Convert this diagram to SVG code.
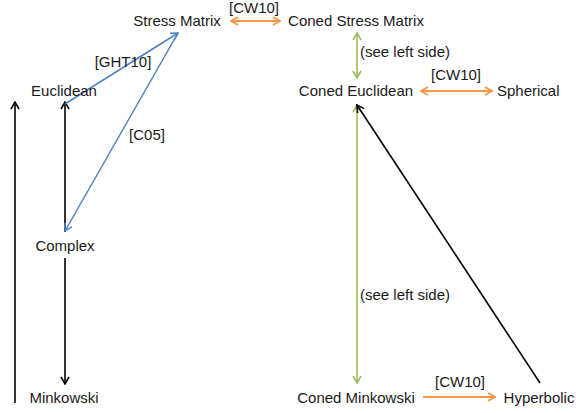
<svg xmlns="http://www.w3.org/2000/svg" width="576" height="413" viewBox="0 0 576 413">
<style>
text{font-family:"Liberation Sans",Arial,sans-serif;font-size:15px;fill:#1a1a1a}
.m{text-anchor:middle}
.k{stroke:#000;stroke-width:1.6;fill:none}
.o{stroke:#F79646;stroke-width:1.8;fill:none}
.g{stroke:#9BBB59;stroke-width:1.6;fill:none}
.b{stroke:#4F81BD;stroke-width:1.5;fill:none}
</style>
<defs>
<marker id="ak" viewBox="0 0 10 10" refX="9" refY="5" markerWidth="10" markerHeight="10" markerUnits="userSpaceOnUse" orient="auto-start-reverse"><path d="M2,1 L9,5 L2,9" fill="none" stroke="#000" stroke-width="1.6"/></marker>
<marker id="ao" viewBox="0 0 10 10" refX="9" refY="5" markerWidth="10" markerHeight="10" markerUnits="userSpaceOnUse" orient="auto-start-reverse"><path d="M2,1 L9,5 L2,9" fill="none" stroke="#F79646" stroke-width="1.8"/></marker>
<marker id="ag" viewBox="0 0 10 10" refX="9" refY="5" markerWidth="10" markerHeight="10" markerUnits="userSpaceOnUse" orient="auto-start-reverse"><path d="M2,1 L9,5 L2,9" fill="none" stroke="#9BBB59" stroke-width="1.6"/></marker>
<marker id="ab" viewBox="0 0 10 10" refX="9" refY="5" markerWidth="10" markerHeight="10" markerUnits="userSpaceOnUse" orient="auto-start-reverse"><path d="M2,1 L9,5 L2,9" fill="none" stroke="#4F81BD" stroke-width="1.5"/></marker>
</defs>
<g id="connectors">
<line class="k" x1="15" y1="403" x2="15" y2="102" marker-end="url(#ak)"/>
<line class="k" x1="65" y1="232" x2="65" y2="102" marker-end="url(#ak)"/>
<line class="k" x1="65" y1="258" x2="65" y2="384" marker-end="url(#ak)"/>
<line class="b" x1="65" y1="104" x2="178" y2="33" marker-end="url(#ab)"/>
<line class="b" x1="178" y1="33" x2="65" y2="231" marker-end="url(#ab)"/>
<line class="o" x1="231" y1="21" x2="280" y2="21" marker-start="url(#ao)" marker-end="url(#ao)"/>
<line class="g" x1="357" y1="33" x2="357" y2="78" marker-start="url(#ag)" marker-end="url(#ag)"/>
<line class="o" x1="421" y1="91" x2="492" y2="91" marker-start="url(#ao)" marker-end="url(#ao)"/>
<line class="g" x1="357" y1="105" x2="357" y2="383" marker-start="url(#ag)" marker-end="url(#ag)"/>
<line class="o" x1="423" y1="397" x2="495" y2="397" marker-end="url(#ao)"/>
<line class="k" x1="540" y1="383" x2="357" y2="105" marker-end="url(#ak)"/>
<text class="m" x="254" y="13">[CW10]</text>
<text x="360" y="57">(see left side)</text>
<text class="m" x="456" y="80">[CW10]</text>
<text x="360" y="300">(see left side)</text>
<text class="m" x="460" y="387">[CW10]</text>
<text class="m" x="123" y="67">[GHT10]</text>
<text class="m" x="147" y="140">[C05]</text>
</g>
<g id="stress-matrix"><text class="m" x="177" y="26">Stress Matrix</text></g>
<g id="coned-stress-matrix"><text class="m" x="356" y="26">Coned Stress Matrix</text></g>
<g id="euclidean"><text class="m" x="64" y="96">Euclidean</text></g>
<g id="coned-euclidean"><text class="m" x="356" y="96">Coned Euclidean</text></g>
<g id="spherical"><text x="497" y="96">Spherical</text></g>
<g id="complex"><text class="m" x="65" y="251">Complex</text></g>
<g id="minkowski"><text class="m" x="64" y="403">Minkowski</text></g>
<g id="coned-minkowski"><text class="m" x="356" y="403">Coned Minkowski</text></g>
<g id="hyperbolic"><text class="m" x="539" y="403">Hyperbolic</text></g>
</svg>
